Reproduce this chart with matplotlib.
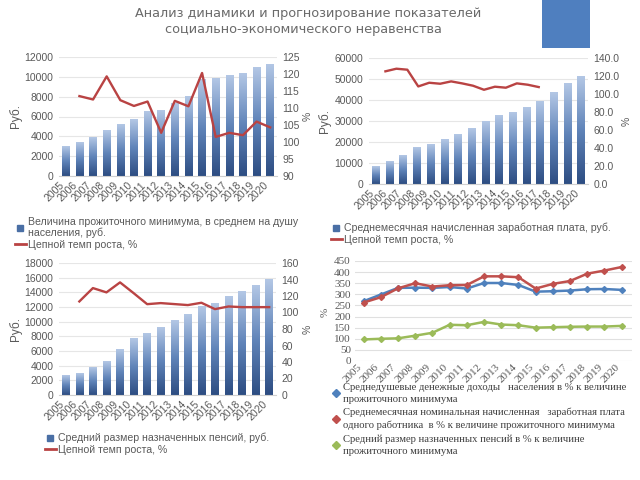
import numpy as np
import matplotlib
matplotlib.use("Agg")
import matplotlib.pyplot as plt
from matplotlib.colors import LinearSegmentedColormap
from matplotlib.lines import Line2D
from matplotlib.patches import Rectangle
from matplotlib.ticker import FormatStrFormatter

years = ["2005", "2006", "2007", "2008", "2009", "2010", "2011", "2012",
         "2013", "2014", "2015", "2016", "2017", "2018", "2019", "2020"]

# subsistence minimum per capita, rub. + chain growth rate, %
living_min = [3020, 3420, 3850, 4630, 5160, 5700, 6470, 6570,
              7300, 8050, 9700, 9820, 10090, 10290, 10900, 11260]
living_growth = [113.5, 112.5, 119.3, 112.3, 110.6, 111.9, 102.7, 112.1,
                 110.5, 120.3, 101.5, 102.7, 102.0, 106.0, 104.3]

# average monthly wage, rub. + chain growth rate, %
wage = [8550, 10650, 13650, 17300, 18700, 21100, 23400, 26600,
        30000, 32600, 34000, 36600, 39100, 43700, 47900, 51300]
wage_growth = [125.2, 128.1, 127.0, 108.4, 112.5, 111.4, 114.0, 111.8,
               109.2, 104.7, 108.1, 107.0, 111.8, 110.3, 107.7]

# average pension, rub. + chain growth rate, %
pension = [2600, 2920, 3780, 4600, 6240, 7660, 8340, 9250,
           10120, 10980, 12080, 12530, 13400, 14130, 14950, 15770]
pension_growth = [113.4, 129.6, 124.4, 136.5, 123.5, 110.1, 111.4, 110.2,
                  109.0, 111.8, 104.1, 107.3, 106.5, 106.5, 106.5]

# ratios to subsistence minimum, %
income_pct = [269, 299, 329, 330, 329, 333, 326, 351, 351, 342, 312, 314, 317, 323, 324, 320]
wage_pct = [263, 287, 327, 350, 335, 341, 342, 381, 381, 377, 326, 347, 360, 393, 407, 423]
pension_pct = [97, 100, 102, 114, 127, 163, 161, 176, 164, 161, 150, 152, 154, 155, 155, 158]

W, H = 640, 480
GRAY = "#595959"
RED = "#b94343"
SANS = ["Liberation Sans", "DejaVu Sans"]
SERIF = ["Liberation Serif", "DejaVu Serif"]

fig = plt.figure(figsize=(6.4, 4.8), dpi=100)


def px_rect(x0, y0, x1, y1):
    return [x0 / W, 1 - y1 / H, (x1 - x0) / W, (y1 - y0) / H]


def fpt(x, y):
    return (x / W, 1 - y / H)


bar_cmap = LinearSegmentedColormap.from_list("bars", ["#2d4d82", "#6084b9", "#b3c7e5"])


def bar_panel(rect, values, growth, left_ticks, right_ticks, right_fmt,
              line_xlim, labels, legend_xy, rub_x, pct_x):
    ax = fig.add_axes(px_rect(*rect))
    x = np.arange(len(years))
    bars = ax.bar(x, values, width=0.55, color="none", edgecolor="none")
    grad = np.linspace(1, 0, 200).reshape(-1, 1)
    for b in bars:
        ax.imshow(grad, extent=[b.get_x(), b.get_x() + b.get_width(), 0, b.get_height()],
                  cmap=bar_cmap, vmin=0, vmax=1, aspect="auto",
                  interpolation="bilinear", zorder=2)
    ax.set_xlim(-0.5, len(years) - 0.5)
    ax.set_ylim(left_ticks[0], left_ticks[-1])
    ax.set_yticks(left_ticks)
    ax.set_xticks(x)
    ax.set_xticklabels(years, rotation=45, ha="right", family=SANS, fontsize=7.5, color=GRAY)
    for t in ax.get_yticklabels():
        t.set_family(SANS)
    ax.tick_params(axis="y", length=0, pad=4, labelsize=7.5, labelcolor=GRAY)
    ax.tick_params(axis="x", length=0, pad=3)
    ax.yaxis.grid(True, color="#e6e6e6", lw=0.8)
    ax.set_axisbelow(True)
    for s in ("top", "left", "right"):
        ax.spines[s].set_visible(False)
    ax.spines["bottom"].set_color("#d0d0d0")

    ax2 = fig.add_axes(px_rect(*rect))
    ax2.patch.set_visible(False)
    ax2.plot(np.arange(1, len(growth) + 1), growth, color=RED, lw=1.7, solid_joinstyle="round")
    ax2.set_xlim(*line_xlim)
    ax2.set_ylim(right_ticks[0], right_ticks[-1])
    ax2.set_yticks(right_ticks)
    if right_fmt:
        ax2.yaxis.set_major_formatter(FormatStrFormatter(right_fmt))
    ax2.yaxis.tick_right()
    ax2.set_xticks([])
    for t in ax2.get_yticklabels():
        t.set_family(SANS)
    ax2.tick_params(axis="y", length=0, pad=4, labelsize=7.5, labelcolor=GRAY)
    for s in ax2.spines.values():
        s.set_visible(False)

    y_mid = (rect[1] + rect[3]) / 2
    fig.text(*fpt(rub_x, y_mid), "Руб.", rotation=90, ha="center", va="center",
             family=SANS, fontsize=8.5, color=GRAY)
    fig.text(*fpt(pct_x, y_mid), "%", rotation=90, ha="center", va="center",
             family=SANS, fontsize=7.5, color=GRAY)

    handles = [Line2D([], [], marker="s", ls="none", color="#4a6fa5", markersize=4),
               Line2D([], [], color=RED, lw=2)]
    leg = fig.legend(handles, labels, loc="upper left", bbox_to_anchor=fpt(*legend_xy),
                     frameon=False, borderpad=0, borderaxespad=0, handlelength=1.0,
                     handletextpad=0.2, labelspacing=0.15,
                     prop={"family": SANS, "size": 7.6})
    for t in leg.get_texts():
        t.set_color(GRAY)
        t.set_linespacing(1.1)
    return ax


bar_panel((59, 57, 277, 176), living_min, living_growth,
          list(range(0, 12001, 2000)), list(range(90, 126, 5)), None, (-0.5, 15.5),
          ["Величина прожиточного минимума, в среднем на душу\nнаселения, руб.",
           "Цепной темп роста, %"], (15, 217), 16, 308)

bar_panel((369, 58, 588, 184), wage, wage_growth,
          list(range(0, 60001, 10000)), list(range(0, 141, 20)), "%.1f", (-0.5, 19.5),
          ["Среднемесячная начисленная заработная плата, руб.",
           "Цепной темп роста, %"], (331, 223), 325, 627)

bar_panel((59, 263, 276, 395), pension, pension_growth,
          list(range(0, 18001, 2000)), list(range(0, 161, 20)), None, (-0.5, 15.5),
          ["Средний размер назначенных пенсий, руб.",
           "Цепной темп роста, %"], (45, 433), 16, 308)

# bottom-right line chart
ax4 = fig.add_axes(px_rect(355, 261, 632, 361))
x = np.arange(len(years))
series = [(income_pct, "#4f81bd"), (wage_pct, "#c0504d"), (pension_pct, "#9bbb59")]
for vals, col in series:
    ax4.plot(x, vals, color=col, lw=1.8, marker="D", markersize=3)
ax4.set_xlim(-0.5, 15.6)
ax4.set_ylim(0, 450)
ax4.set_yticks(range(0, 451, 50))
ax4.set_xticks(x)
ax4.set_xticklabels(years, rotation=45, ha="right", family=SERIF, fontsize=8, color=GRAY)
for t in ax4.get_yticklabels():
    t.set_family(SERIF)
ax4.tick_params(axis="y", length=0, pad=3, labelsize=8, labelcolor=GRAY)
ax4.tick_params(axis="x", length=0, pad=1)
ax4.yaxis.grid(True, color="#e0e0e0", lw=0.8)
ax4.set_axisbelow(True)
for s in ax4.spines.values():
    s.set_visible(False)
fig.text(*fpt(325, 312), "%", rotation=90, ha="center", va="center",
         family=SERIF, fontsize=8, color=GRAY)

handles4 = [Line2D([], [], marker="D", ls="none", color=col, markersize=4.5) for _, col in series]
labels4 = ["Среднедушевые денежные доходы   населения в % к величине\nпрожиточного минимума",
           "Среднемесячная номинальная начисленная   заработная плата\nодного работника  в % к величине прожиточного минимума",
           "Средний размер назначенных пенсий в % к величине\nпрожиточного минимума"]
leg4 = fig.legend(handles4, labels4, loc="upper left", bbox_to_anchor=fpt(333, 383),
                  frameon=False, borderpad=0, borderaxespad=0, handlelength=0.6,
                  handletextpad=0.3, labelspacing=0.35,
                  prop={"family": SERIF, "size": 7.7})
for t in leg4.get_texts():
    t.set_color("#3f3f3f")
    t.set_linespacing(1.45)

# title and decorative block
fig.text(*fpt(308, 13), "Анализ динамики и прогнозирование показателей", ha="center", va="center",
         family="DejaVu Sans", fontsize=9.3, color="#6a6a6a")
fig.text(*fpt(303, 30), "социально-экономического неравенства", ha="center", va="center",
         family="DejaVu Sans", fontsize=9.3, color="#6a6a6a")
fig.add_artist(Rectangle(fpt(542, 48), 48 / W, 48 / H, transform=fig.transFigure,
                         color="#4f7fbf", lw=0))

fig.savefig("out.png", dpi=100)
